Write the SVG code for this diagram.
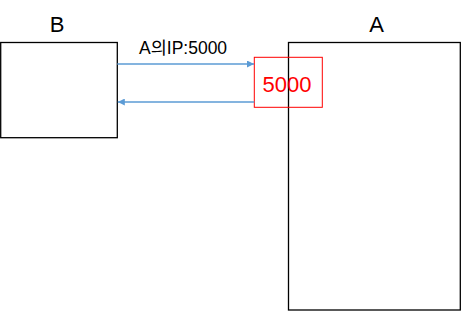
<svg xmlns="http://www.w3.org/2000/svg" width="461" height="311" viewBox="0 0 461 311">
<style>
.box{fill:#fff;stroke:#000;stroke-width:1.3}
.title{font-family:"Liberation Sans","Noto Sans CJK KR",sans-serif;font-size:22px;fill:#000;text-anchor:middle}
.conn{stroke:#5B9BD5;stroke-width:1.3;fill:none;marker-end:url(#ah)}
.lbl{font-family:"Liberation Sans","Noto Sans CJK KR",sans-serif;font-size:17.5px;fill:#000}
</style>
<defs>
<marker id="ah" viewBox="0 0 10 10" refX="10" refY="5" markerWidth="8" markerHeight="7" markerUnits="userSpaceOnUse" orient="auto">
<path d="M0,0 L10,5 L0,10 z" fill="#5B9BD5"/>
</marker>
</defs>
<g id="B">
<rect class="box" x="0.7" y="42.5" width="116.6" height="95.2"/>
<text class="title" x="57" y="32.3">B</text>
</g>
<g id="A">
<rect class="box" x="288.5" y="42.5" width="171.8" height="267.5"/>
<text class="title" x="376.7" y="32.3">A</text>
</g>
<g id="port">
<rect x="254.3" y="57.3" width="68" height="50" fill="none" stroke="#FF0000" stroke-width="1"/>
<text x="262.5" y="92.3" font-family="Liberation Sans,sans-serif" font-size="22px" fill="#FF0000">5000</text>
</g>
<g id="connectors">
<line class="conn" x1="117.3" y1="64" x2="254" y2="64"/>
<line class="conn" x1="254.3" y1="102" x2="117.8" y2="102"/>
<text class="lbl" x="139" y="54">A의IP:5000</text>
</g>
</svg>
